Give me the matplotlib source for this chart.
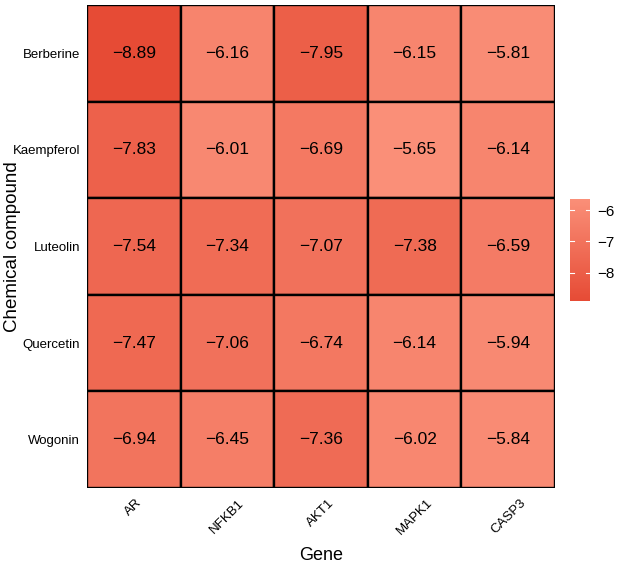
import matplotlib
matplotlib.use("Agg")
import matplotlib.pyplot as plt
import numpy as np
from matplotlib.colors import LinearSegmentedColormap, Normalize

plt.rcParams['font.family'] = ['Liberation Sans', 'DejaVu Sans']

genes = ["AR", "NFKB1", "AKT1", "MAPK1", "CASP3"]
compounds = ["Berberine", "Kaempferol", "Luteolin", "Quercetin", "Wogonin"]
values = [
    [-8.89, -6.16, -7.95, -6.15, -5.81],
    [-7.83, -6.01, -6.69, -5.65, -6.14],
    [-7.54, -7.34, -7.07, -7.38, -6.59],
    [-7.47, -7.06, -6.74, -6.14, -5.94],
    [-6.94, -6.45, -7.36, -6.02, -5.84],
]
cbar_ticks = [-6, -7, -8]

data = np.array(values)
cmap = LinearSegmentedColormap.from_list("rd", ["#E64B35", "#FA8F78"])
norm = Normalize(vmin=data.min(), vmax=data.max())

fig = plt.figure(figsize=(6.24, 5.68), dpi=100)
ax = fig.add_axes([87/624, 1-488/568, (555-87)/624, (488-5)/568])

nr, nc = data.shape
for i in range(nr):
    for j in range(nc):
        ax.add_patch(plt.Rectangle((j - 0.5, i - 0.5), 1, 1,
                                   facecolor=cmap(norm(data[i, j])),
                                   edgecolor="black", linewidth=1.7))
        ax.text(j, i, f"\u2212{abs(data[i, j]):.2f}", ha="center", va="center",
                fontsize=12.5, color="black")
ax.set_xlim(-0.5, nc - 0.5)
ax.set_ylim(nr - 0.5, -0.5)
ax.set_xticks(range(nc))
ax.set_xticklabels(genes, rotation=45, ha="center", va="top", fontsize=9.5)
ax.set_yticks(range(nr))
ax.set_yticklabels(compounds, fontsize=9.5)
ax.tick_params(axis="x", length=0, pad=6.5)
ax.tick_params(axis="y", length=0, pad=5)
for s in ax.spines.values():
    s.set_visible(False)
ax.set_xlabel("Gene", fontsize=13)
ax.set_ylabel("Chemical compound", fontsize=13.5)
ax.xaxis.set_label_coords(0.5, -0.122)
ax.yaxis.set_label_coords(-0.141, 0.5)

cax = fig.add_axes([570/624, 1-301/568, 20/624, 102/568])
sm = matplotlib.cm.ScalarMappable(norm=norm, cmap=cmap)
cb = fig.colorbar(sm, cax=cax)
cb.outline.set_visible(False)
cb.set_ticks(cbar_ticks)
cb.set_ticklabels([f"\u2212{abs(t)}" for t in cbar_ticks])
cax.tick_params(length=0, labelsize=11, pad=5)
for t in cbar_ticks:
    cax.plot([0, 0.2], [t, t], color="white", lw=0.8, transform=cax.get_yaxis_transform())
    cax.plot([0.8, 1.0], [t, t], color="white", lw=0.8, transform=cax.get_yaxis_transform())

fig.savefig("out.png", dpi=100)
